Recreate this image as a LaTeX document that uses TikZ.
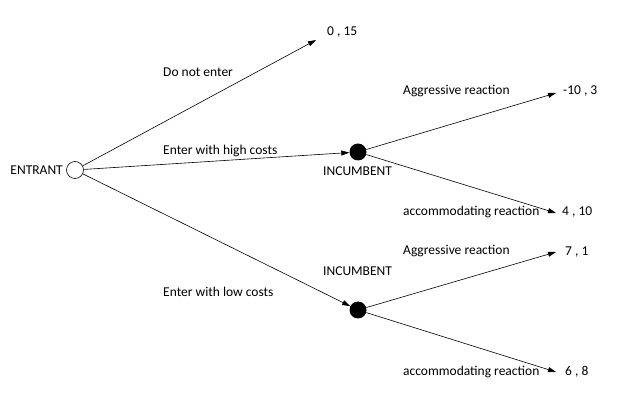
\documentclass[tikz,border=0pt]{standalone}
\usepackage{fontspec}
\setmainfont{Carlito}
\usetikzlibrary{arrows.meta}
\begin{document}
\begin{tikzpicture}[x=1pt,y=-1pt,
  lbl/.style={anchor=west,inner sep=0pt,font=\fontsize{13.5}{15}\selectfont},
  arr/.style={-{Triangle[length=8pt,width=5pt]},line width=0.6pt},
  ln/.style={line width=0.6pt},
  open/.style={circle,draw,line width=0.6pt,minimum size=17pt,inner sep=0pt,fill=white},
  full/.style={circle,fill=black,minimum size=17pt,inner sep=0pt}]
\useasboundingbox (0,0) rectangle (641,401);
\node[open] (e) at (75,170) {};
\node[lbl,anchor=east] (et) at (63,170) {ENTRANT};
\node[full] (i1) at (358,152) {};
\node[full] (i2) at (358,310) {};
\coordinate (p0) at (316,40);
\coordinate (a1) at (556,93);
\coordinate (c1) at (556,213);
\coordinate (a2) at (556,252);
\coordinate (c2) at (556,372);
\draw[arr] (e) -- (p0);
\draw[arr] (e) -- (i1);
\draw[arr] (e) -- (i2);
\draw[arr] (i1) -- (a1);
\draw[arr] (i1) -- (c1);
\draw[arr] (i2) -- (a2);
\draw[arr] (i2) -- (c2);
\node[lbl] (t0) at (327,32) {0 , 15};
\node[lbl] (l0) at (163,72) {Do not enter};
\node[lbl] (l1) at (163,151) {Enter with high costs};
\node[lbl] (l2) at (163,292) {Enter with low costs};
\node[lbl] (n1) at (323,171) {INCUMBENT};
\node[lbl] (n2) at (323,271) {INCUMBENT};
\node[lbl] (g1) at (403,91) {Aggressive reaction};
\node[lbl] (h1) at (403,212) {accommodating reaction};
\node[lbl] (g2) at (403,251) {Aggressive reaction};
\node[lbl] (h2) at (403,372) {accommodating reaction};
\node[lbl] (v1) at (563,91) {-10 , 3};
\node[lbl] (v2) at (562,212) {4 , 10};
\node[lbl] (v3) at (565,252) {7 , 1};
\node[lbl] (v4) at (565,372) {6 , 8};
\end{tikzpicture}
\end{document}
